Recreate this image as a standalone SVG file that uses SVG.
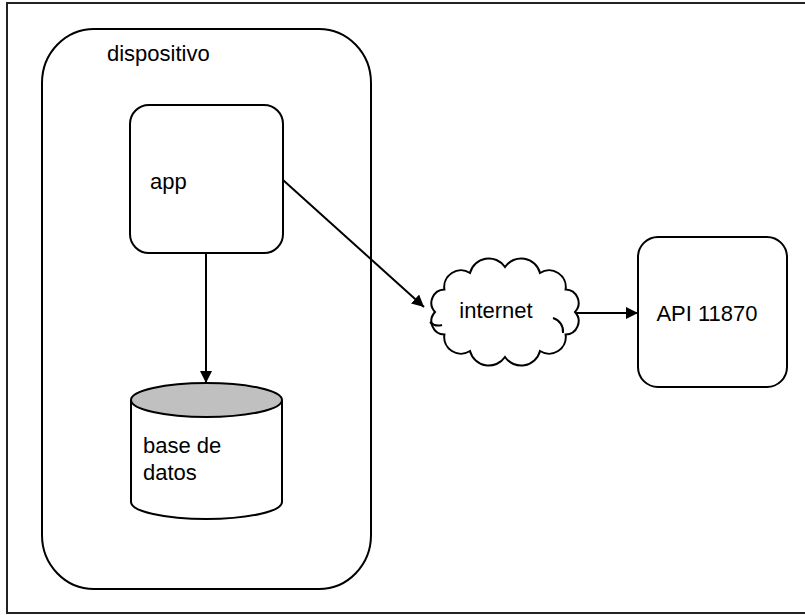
<svg xmlns="http://www.w3.org/2000/svg" width="805" height="615" viewBox="0 0 805 615">
<defs>
<style>
.shape{fill:#fff;stroke:#000;stroke-width:2}
.txt{font-family:"Liberation Sans",Arial,sans-serif;font-size:22px;fill:#000}
.conn{fill:none;stroke:#000;stroke-width:2}
</style>
<marker id="arr" viewBox="0 0 10 10" refX="10" refY="5" markerWidth="6" markerHeight="6" markerUnits="strokeWidth" orient="auto">
<path d="M0,0 L10,5 L0,10 z" fill="#000"/>
</marker>
</defs>
<rect width="805" height="615" fill="#fff"/>
<rect id="frame" x="7" y="3" width="810" height="610" fill="none" stroke="#222" stroke-width="2"/>
<g id="dispositivo">
<rect class="shape" x="42" y="29" width="329" height="560" rx="52" ry="54"/>
<text class="txt" x="107" y="61">dispositivo</text>
</g>
<g id="app">
<rect class="shape" x="130" y="105" width="153" height="148" rx="19"/>
<text class="txt" x="150" y="189">app</text>
</g>
<g id="base-de-datos">
<path class="shape" d="M131,400 L131,502 A75.5,17 0 0 0 282,502 L282,400"/>
<ellipse cx="206.5" cy="400" rx="75.5" ry="17" fill="#c0c0c0" stroke="#000" stroke-width="2"/>
<text class="txt" x="143" y="453">base de</text>
<text class="txt" x="143" y="480">datos</text>
</g>
<g id="internet">
<path class="shape" d="M435,312 A13.4,13.4 0 0 1 444.4,289.5 A16.7,16.7 0 0 1 470,273 A19.5,19.5 0 0 1 505,267 A19.5,19.5 0 0 1 540,273 A16.7,16.7 0 0 1 565.6,289.5 A13.4,13.4 0 0 1 575,312 A13.4,13.4 0 0 1 565.6,334.5 A16.7,16.7 0 0 1 540,351 A19.5,19.5 0 0 1 505,357 A19.5,19.5 0 0 1 470,351 A16.7,16.7 0 0 1 444.4,334.5 A13.4,13.4 0 0 1 435,312 Z"/>
<path class="conn" d="M553,318 A14,14 0 0 1 563,333"/>
<path class="conn" d="M430,322 A12,12 0 0 0 442,325"/>
<text class="txt" x="496" y="318" text-anchor="middle">internet</text>
</g>
<g id="api">
<rect class="shape" x="638" y="237" width="149" height="150" rx="20"/>
<text class="txt" x="707" y="321" text-anchor="middle">API 11870</text>
</g>
<g id="connectors">
<line class="conn" x1="283" y1="180" x2="424" y2="307" marker-end="url(#arr)"/>
<line class="conn" x1="206" y1="253" x2="206" y2="383" marker-end="url(#arr)"/>
<line class="conn" x1="576" y1="313" x2="638" y2="313" marker-end="url(#arr)"/>
</g>
</svg>
